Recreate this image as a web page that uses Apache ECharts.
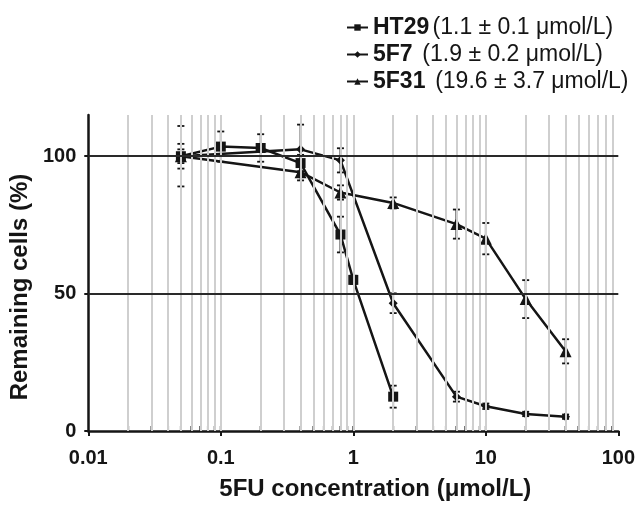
<!DOCTYPE html>
<html>
<head>
<meta charset="utf-8">
<script src="https://cdn.jsdelivr.net/npm/echarts@6/dist/echarts.min.js"></script>
<style>
  html, body { margin: 0; padding: 0; background: #fff; }
  #chart { width: 638px; height: 506px; }
</style>
</head>
<body>
<div id="chart"></div>
<script>
// dose-response data (x = 5FU conc, y = remaining cells %)
var names = ['HT29', '5F7', '5F31'];
var notes = ['(1.1 ± 0.1 μmol/L)', ' (1.9 ± 0.2 μmol/L)', ' (19.6 ± 3.7 μmol/L)'];
var symbols = ['rect', 'diamond', 'triangle'];

var concHT29 = [0.05, 0.1, 0.2, 0.4, 0.8, 1, 2];
var valHT29  = [100, 103.5, 103, 97.5, 71.5, 55, 12.5];
var errHT29  = [11, 5.5, 5, 3, 6.5, 1.5, 4];

var conc5F7 = [0.05, 0.4, 0.8, 2, 6, 10, 20, 40];
var val5F7  = [100, 102.5, 98.5, 46.5, 12.5, 9, 6.2, 5.2];
var err5F7  = [4.5, 9, 4.4, 3.6, 1.8, 1, 0.8, 0.8];

var conc5F31 = [0.05, 0.4, 0.8, 2, 6, 10, 20, 40];
var val5F31  = [100, 94.2, 86.8, 83, 75.3, 70, 48, 29];
var err5F31  = [2.5, 3, 2.6, 2, 5.3, 5.7, 6.9, 4.4];

var yTicks = [0, 50, 100];
var yRefLines = [50, 100];
var xGridLines = [0.02, 0.03, 0.04, 0.05, 0.06, 0.07, 0.08, 0.09,
                  0.1, 0.2, 0.3, 0.4, 0.5, 0.6, 0.7, 0.8, 0.9,
                  1, 2, 3, 4, 5, 6, 7, 8, 9,
                  10, 20, 30, 40, 50, 60, 70, 80, 90];

var font = 'Liberation Sans, Arial, sans-serif';
var ink = '#151515';

var concs = [concHT29, conc5F7, conc5F31];
var vals = [valHT29, val5F7, val5F31];
var errs = [errHT29, err5F7, err5F31];
var symSize = [10, 9, 12];

var chart = echarts.init(document.getElementById('chart'));

var series = [];
// light vertical log grid + dark reference lines at 50 / 100, minor tick marks on the axis
series.push({
    name: 'grid',
    type: 'scatter',
    z: 1,
    silent: true,
    symbol: 'rect',
    symbolSize: [2, 6],
    symbolOffset: [0, -2],
    itemStyle: { color: ink },
    data: xGridLines.map(function (v) { return [v, 0]; }),
    markLine: {
        silent: true,
        symbol: ['none', 'none'],
        label: { show: false },
        animation: false,
        data: xGridLines.map(function (v) {
            return { xAxis: v, lineStyle: { color: '#cfcfcf', width: 2, type: 'solid' } };
        }).concat(yRefLines.map(function (v) {
            return { yAxis: v, lineStyle: { color: '#2a2a2a', width: 2.2, type: 'solid' } };
        }))
    }
});

for (var i = 0; i < names.length; i++) {
    var pts = [], bars = [];
    for (var j = 0; j < concs[i].length; j++) {
        pts.push([concs[i][j], vals[i][j]]);
        bars.push([concs[i][j], vals[i][j] - errs[i][j], vals[i][j] + errs[i][j]]);
    }
    series.push({
        name: names[i] + '-err',
        type: 'custom',
        z: 3,
        silent: true,
        data: bars,
        encode: { x: 0, y: [1, 2] },
        renderItem: function (params, api) {
            var x = api.value(0);
            var lo = api.coord([x, api.value(1)]);
            var hi = api.coord([x, api.value(2)]);
            var st = { stroke: ink, lineWidth: 1.8 };
            return {
                type: 'group',
                children: [
                    { type: 'line', shape: { x1: lo[0], y1: lo[1], x2: hi[0], y2: hi[1] }, style: st },
                    { type: 'line', shape: { x1: lo[0] - 3.5, y1: lo[1], x2: lo[0] + 3.5, y2: lo[1] }, style: st },
                    { type: 'line', shape: { x1: hi[0] - 3.5, y1: hi[1], x2: hi[0] + 3.5, y2: hi[1] }, style: st }
                ]
            };
        }
    });
    series.push({
        name: names[i],
        type: 'line',
        z: 4,
        data: pts,
        symbol: symbols[i],
        symbolSize: symSize[i],
        showAllSymbol: true,
        lineStyle: { color: ink, width: 2.5 },
        itemStyle: { color: ink, borderWidth: 0 }
    });
}

var option = {
    animation: false,
    backgroundColor: '#fff',
    textStyle: { fontFamily: font },
    legend: {
        data: names,
        orient: 'vertical',
        left: 341,
        top: 11,
        itemWidth: 21,
        itemHeight: 8,
        itemGap: 4,
        selectedMode: false,
        formatter: function (name) {
            return '{b|' + name + '} {r|' + notes[names.indexOf(name)] + '}';
        },
        textStyle: {
            rich: {
                b: { fontFamily: font, fontWeight: 'bold', fontSize: 23, color: ink },
                r: { fontFamily: font, fontSize: 23, color: ink }
            }
        }
    },
    grid: { left: 88, right: 18, top: 115, bottom: 72, containLabel: false },
    xAxis: {
        type: 'log',
        logBase: 10,
        min: 0.01,
        max: 100,
        name: '5FU concentration (μmol/L)',
        nameLocation: 'middle',
        nameGap: 46,
        nameTextStyle: { fontFamily: font, fontWeight: 'bold', fontSize: 24, color: ink, padding: [0, 0, 0, 44] },
        axisLine: { lineStyle: { color: ink, width: 2.5 } },
        axisTick: { show: true, length: 5, lineStyle: { color: ink, width: 2 } },
        axisLabel: {
            margin: 17,
            fontFamily: font, fontWeight: 'bold', fontSize: 20, color: ink,
            formatter: function (v) { return String(+Number(v).toPrecision(3)); }
        },
        splitLine: { show: false },
        minorTick: { show: false }
    },
    yAxis: {
        type: 'value',
        min: 0,
        max: 115,
        interval: 50,
        name: 'Remaining cells (%)',
        nameLocation: 'middle',
        nameGap: 53,
        nameTextStyle: { fontFamily: font, fontWeight: 'bold', fontSize: 24, color: ink, padding: [0, 28, 0, 0] },
        axisLine: { show: true, lineStyle: { color: ink, width: 2.5 } },
        axisTick: { show: true, length: 4, customValues: yTicks, lineStyle: { color: ink, width: 2 } },
        axisLabel: {
            margin: 12,
            customValues: yTicks,
            fontFamily: font, fontWeight: 'bold', fontSize: 20, color: ink
        },
        splitLine: { show: false }
    },
    series: series
};
chart.setOption(option);
</script>
</body>
</html>
